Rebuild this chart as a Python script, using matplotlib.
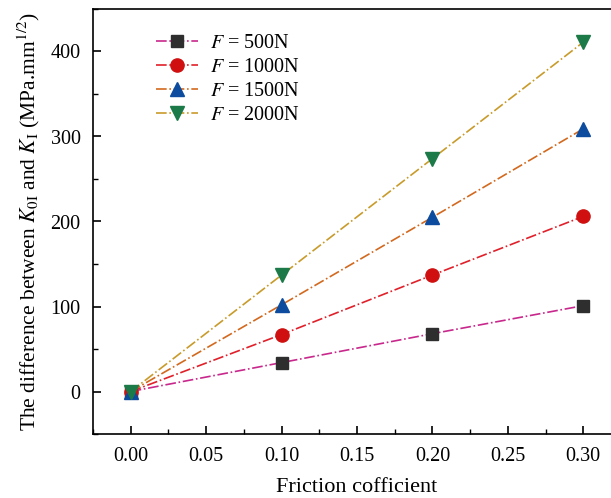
import numpy as np
import matplotlib
matplotlib.use('Agg')
import matplotlib.pyplot as plt
from matplotlib.ticker import MultipleLocator

plt.rcParams['font.family'] = ['Liberation Serif', 'DejaVu Serif']
plt.rcParams['mathtext.fontset'] = 'stix'

# data
friction = [0.0, 0.1, 0.2, 0.3]
loads = ['500N', '1000N', '1500N', '2000N']
diff_500 = [0, 34, 68, 101]
diff_1000 = [0, 67, 137, 206]
diff_1500 = [0, 102, 205, 309]
diff_2000 = [0, 137, 274, 411]

series = [diff_500, diff_1000, diff_1500, diff_2000]
line_cols = ['#C8288C', '#E0202A', '#D2691E', '#C89B2A']
mark_cols = ['#2E2E2E', '#D01010', '#0C4B9E', '#1B7A47']
markers = ['s', 'o', '^', 'v']
msizes = [8.5, 9.5, 10, 10]

fig = plt.figure(figsize=(6.11, 4.98), dpi=100)
ax = fig.add_axes([93/611, (498-434)/498, 528/611, 425/498])

for i in range(4):
    ax.plot(friction, series[i], linestyle='-.', color=line_cols[i], lw=1.2,
            marker=markers[i], ms=msizes[i], mfc=mark_cols[i], mec=mark_cols[i],
            label='$F$ = ' + loads[i])

ax.set_xlim(-0.025, 0.325)
ax.set_ylim(-50, 450)
ax.xaxis.set_major_locator(MultipleLocator(0.05))
ax.xaxis.set_minor_locator(MultipleLocator(0.025))
ax.yaxis.set_major_locator(MultipleLocator(100))
ax.yaxis.set_minor_locator(MultipleLocator(50))
ax.set_xticks([0, 0.05, 0.1, 0.15, 0.2, 0.25, 0.3])
ax.set_xticklabels(['0.00', '0.05', '0.10', '0.15', '0.20', '0.25', '0.30'])
ax.tick_params(which='major', direction='in', length=6, width=1.2, labelsize=14.5, pad=9)
ax.tick_params(which='minor', direction='in', length=3.5, width=1.0)
for s in ax.spines.values():
    s.set_linewidth(1.2)

ax.set_xlabel('Friction cofficient', fontsize=16, labelpad=9)
ax.set_ylabel(r'The difference between $K_{0\mathrm{I}}$ and $K_\mathrm{I}$ (MPa.mm$^{1/2}$)',
              fontsize=15.5, labelpad=6)

leg = ax.legend(loc='upper left', bbox_to_anchor=(0.085, 0.985), frameon=False,
                fontsize=14.5, handlelength=2.1, labelspacing=0.25, handletextpad=0.6)

fig.savefig('out.png', dpi=100)
